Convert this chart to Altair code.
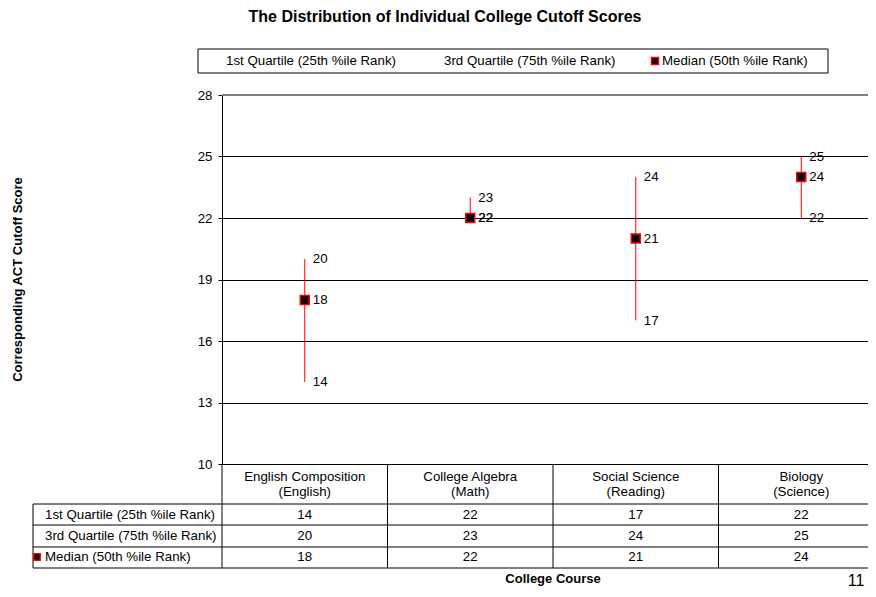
import altair as alt
import pandas as pd

# ---- data ----
courses = ["English Composition", "College Algebra", "Social Science", "Biology"]
subjects = ["(English)", "(Math)", "(Reading)", "(Science)"]
q1_values = [14, 22, 17, 22]
q3_values = [20, 23, 24, 25]
median_values = [18, 22, 21, 24]
y_ticks = [10, 13, 16, 19, 22, 25, 28]
series_labels = ["1st Quartile (25th %ile Rank)", "3rd Quartile (75th %ile Rank)", "Median (50th %ile Rank)"]

df = pd.DataFrame({
    "course": courses,
    "subject": subjects,
    "q1": q1_values,
    "q3": q3_values,
    "median": median_values,
})

FONT = "Liberation Sans"
FS = 13.3
W, H = 646, 369
FULL = 662  # plot extends beyond page edge (clipped)

xscale = alt.Scale(type="band", domain=courses, range=[0, FULL], paddingInner=0, paddingOuter=0)
yscale = alt.Scale(domain=[10, 28], nice=False, zero=False)

yaxis = alt.Axis(
    values=y_ticks, grid=True, gridColor="black", gridWidth=1, gridOpacity=1,
    domainColor="black", domainWidth=1, tickColor="black", tickSize=4, labelPadding=6,
    labelFont=FONT, labelFontSize=FS, labelColor="black",
    title="Corresponding ACT Cutoff Score", titleFont=FONT, titleFontSize=13,
    titleFontWeight="bold", titleColor="black", titleAngle=-90,
    titleX=-205, titleY=184, titleAlign="center", titleBaseline="middle",
)


def X(**kw):
    return alt.X("course:N", scale=xscale, axis=None, sort=courses, **kw)


def Y(field):
    return alt.Y(f"{field}:Q", scale=yscale, axis=yaxis)


base = alt.Chart(df)
one = alt.Chart(pd.DataFrame({"k": [0]}))

top_line = one.mark_rule(color="#808080", strokeWidth=2).encode(
    y=alt.datum(28), x=alt.value(0), x2=alt.value(FULL)
)

ranges = base.mark_rule(color="#FF0000", strokeWidth=1).encode(
    x=X(), y=Y("q1"), y2="q3:Q"
)

medians = base.mark_square(size=81, fill="black", stroke="#FF0000",
                           strokeWidth=1.5, opacity=1).encode(x=X(), y=Y("median"))

lab_kw = dict(align="left", baseline="middle", dx=8, font=FONT, fontSize=FS, color="black")
lab_q1 = base.mark_text(**lab_kw).encode(x=X(), y=Y("q1"), text="q1:Q")
lab_q3 = base.mark_text(**lab_kw).encode(x=X(), y=Y("q3"), text="q3:Q")
lab_med = base.mark_text(**lab_kw).encode(x=X(), y=Y("median"), text="median:Q")

layers = [ranges, top_line, medians, lab_q1, lab_q3, lab_med]

# ---- title ----
layers.append(one.mark_text(text="The Distribution of Individual College Cutoff Scores",
                            font=FONT, fontSize=16, fontWeight="bold", align="center",
                            baseline="middle", color="black").encode(
    x=alt.value(223), y=alt.value(-78)))

# ---- legend box ----
layers.append(one.mark_rect(fill="white", stroke="black", strokeWidth=1).encode(
    x=alt.value(-24), x2=alt.value(606), y=alt.value(-46), y2=alt.value(-22)))
leg_kw = dict(font=FONT, fontSize=FS, align="left", baseline="middle", color="black")
layers.append(one.mark_text(text=series_labels[0], **leg_kw).encode(x=alt.value(4), y=alt.value(-34)))
layers.append(one.mark_text(text=series_labels[1], **leg_kw).encode(x=alt.value(222), y=alt.value(-34)))
layers.append(one.mark_text(text=series_labels[2], **leg_kw).encode(x=alt.value(440), y=alt.value(-34)))
layers.append(one.mark_square(size=49, fill="black", stroke="#FF0000", strokeWidth=1.5, opacity=1).encode(
    x=alt.value(433), y=alt.value(-34)))

# ---- data table ----
line_kw = dict(color="black", strokeWidth=1)
for yy in [409, 430, 452, 473]:
    layers.append(one.mark_rule(**line_kw).encode(
        x=alt.value(-189), x2=alt.value(FULL), y=alt.value(yy)))
layers.append(one.mark_rule(**line_kw).encode(
    x=alt.value(-189), y=alt.value(409), y2=alt.value(473)))
layers.append(base.mark_rule(**line_kw).encode(
    x=X(bandPosition=0), y=alt.value(369), y2=alt.value(473)))

cell_kw = dict(font=FONT, fontSize=FS, align="center", baseline="middle", color="black")
layers.append(base.mark_text(**cell_kw).encode(x=X(), y=alt.value(382), text="course:N"))
layers.append(base.mark_text(**cell_kw).encode(x=X(), y=alt.value(397), text="subject:N"))
layers.append(base.mark_text(**cell_kw).encode(x=X(), y=alt.value(420), text="q1:Q"))
layers.append(base.mark_text(**cell_kw).encode(x=X(), y=alt.value(441), text="q3:Q"))
layers.append(base.mark_text(**cell_kw).encode(x=X(), y=alt.value(462), text="median:Q"))

row_kw = dict(font=FONT, fontSize=FS, align="left", baseline="middle", color="black")
layers.append(one.mark_text(text=series_labels[0], **row_kw).encode(x=alt.value(-177), y=alt.value(420)))
layers.append(one.mark_text(text=series_labels[1], **row_kw).encode(x=alt.value(-177), y=alt.value(441)))
layers.append(one.mark_text(text=series_labels[2], **row_kw).encode(x=alt.value(-177), y=alt.value(462)))
layers.append(one.mark_square(size=42, fill="black", stroke="#FF0000", strokeWidth=1.5, opacity=1).encode(
    x=alt.value(-185), y=alt.value(462)))

layers.append(one.mark_text(text="College Course", font=FONT, fontSize=13, fontWeight="bold",
                            align="center", baseline="middle", color="black").encode(
    x=alt.value(331), y=alt.value(484)))
layers.append(one.mark_text(text="11", font=FONT, fontSize=16, align="center",
                            baseline="middle", color="black").encode(
    x=alt.value(634), y=alt.value(486)))

chart = alt.layer(*layers).properties(
    width=W, height=H,
    autosize=alt.AutoSizeParams(type="none"),
    padding={"left": 214, "top": 87, "right": 0, "bottom": 125},
).configure_view(stroke=None).configure(font=FONT)

chart.save("out.html", embed_options={"renderer": "svg", "actions": False})
